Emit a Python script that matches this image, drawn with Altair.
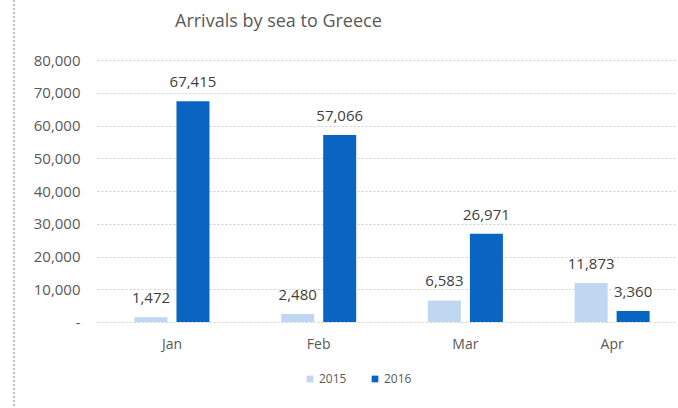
import altair as alt
import pandas as pd

months = ["Jan", "Feb", "Mar", "Apr"]
years = ["2015", "2016"]
arrivals_2015 = [1472, 2480, 6583, 11873]
arrivals_2016 = [67415, 57066, 26971, 3360]
y_ticks = [0, 10000, 20000, 30000, 40000, 50000, 60000, 70000, 80000]

rows = []
for m, a, b in zip(months, arrivals_2015, arrivals_2016):
    rows.append({"month": m, "year": "2015", "value": a})
    rows.append({"month": m, "year": "2016", "value": b})
df = pd.DataFrame(rows)

font = "Open Sans"
gray = "#595959"

x_enc = alt.X("month:N", sort=months, title=None,
              scale=alt.Scale(paddingInner=0.489, paddingOuter=0.221, align=0.578),
              axis=alt.Axis(domain=False, ticks=False, labelAngle=0, labelPadding=15,
                            labelFontSize=14, labelColor=gray, labelFont=font))
xoff = alt.XOffset("year:N", sort=years, scale=alt.Scale(paddingInner=0.214, paddingOuter=0))
y_enc = alt.Y("value:Q", title=None,
              scale=alt.Scale(domain=[0, 80000], nice=False),
              axis=alt.Axis(values=y_ticks, domain=False, ticks=False, labelPadding=17,
                            labelFontSize=15, labelColor=gray, labelFont=font,
                            labelOverlap=False,
                            labelExpr="datum.value == 0 ? '-' : format(datum.value, ',')",
                            gridColor="#d0d0d0", gridDash=[2, 2], gridWidth=1))

bars = alt.Chart(df).mark_bar().encode(
    x=x_enc, xOffset=xoff, y=y_enc,
    color=alt.Color("year:N", sort=years,
                    scale=alt.Scale(domain=years, range=["#bfd7f0", "#0a65c2"]),
                    legend=alt.Legend(title=None, orient="none", legendX=207, legendY=313,
                                      direction="horizontal", symbolType="square",
                                      symbolSize=45, labelFontSize=12, labelColor=gray,
                                      labelFont=font, labelOffset=3, columnPadding=22,
                                      symbolStrokeWidth=0)),
)

labels = alt.Chart(df).mark_text(baseline="bottom", dy=-11, fontSize=15, color="#404040",
                                 font=font).encode(
    x=x_enc,
    xOffset=xoff,
    y=y_enc,
    text=alt.Text("value:Q", format=","),
)

border = alt.Chart(df).mark_rule(strokeDash=[2, 2], color="#bfbfbf").encode(
    x=alt.value(-83), y=alt.value(-60), y2=alt.value(348))

chart = alt.layer(border, bars, labels).properties(
    width=580, height=262,
    padding={"left": 97, "top": 60, "right": 1, "bottom": 86},
    autosize=alt.AutoSizeParams(type="none"),
    title=alt.Title("Arrivals by sea to Greece", anchor="start", frame="group", dx=78,
                    dy=36, offset=5, fontSize=18, font=font, fontWeight="normal",
                    color=gray, baseline="top"),
).configure_view(stroke=None)

chart.save("out.html", embed_options={"renderer": "svg", "actions": False})
